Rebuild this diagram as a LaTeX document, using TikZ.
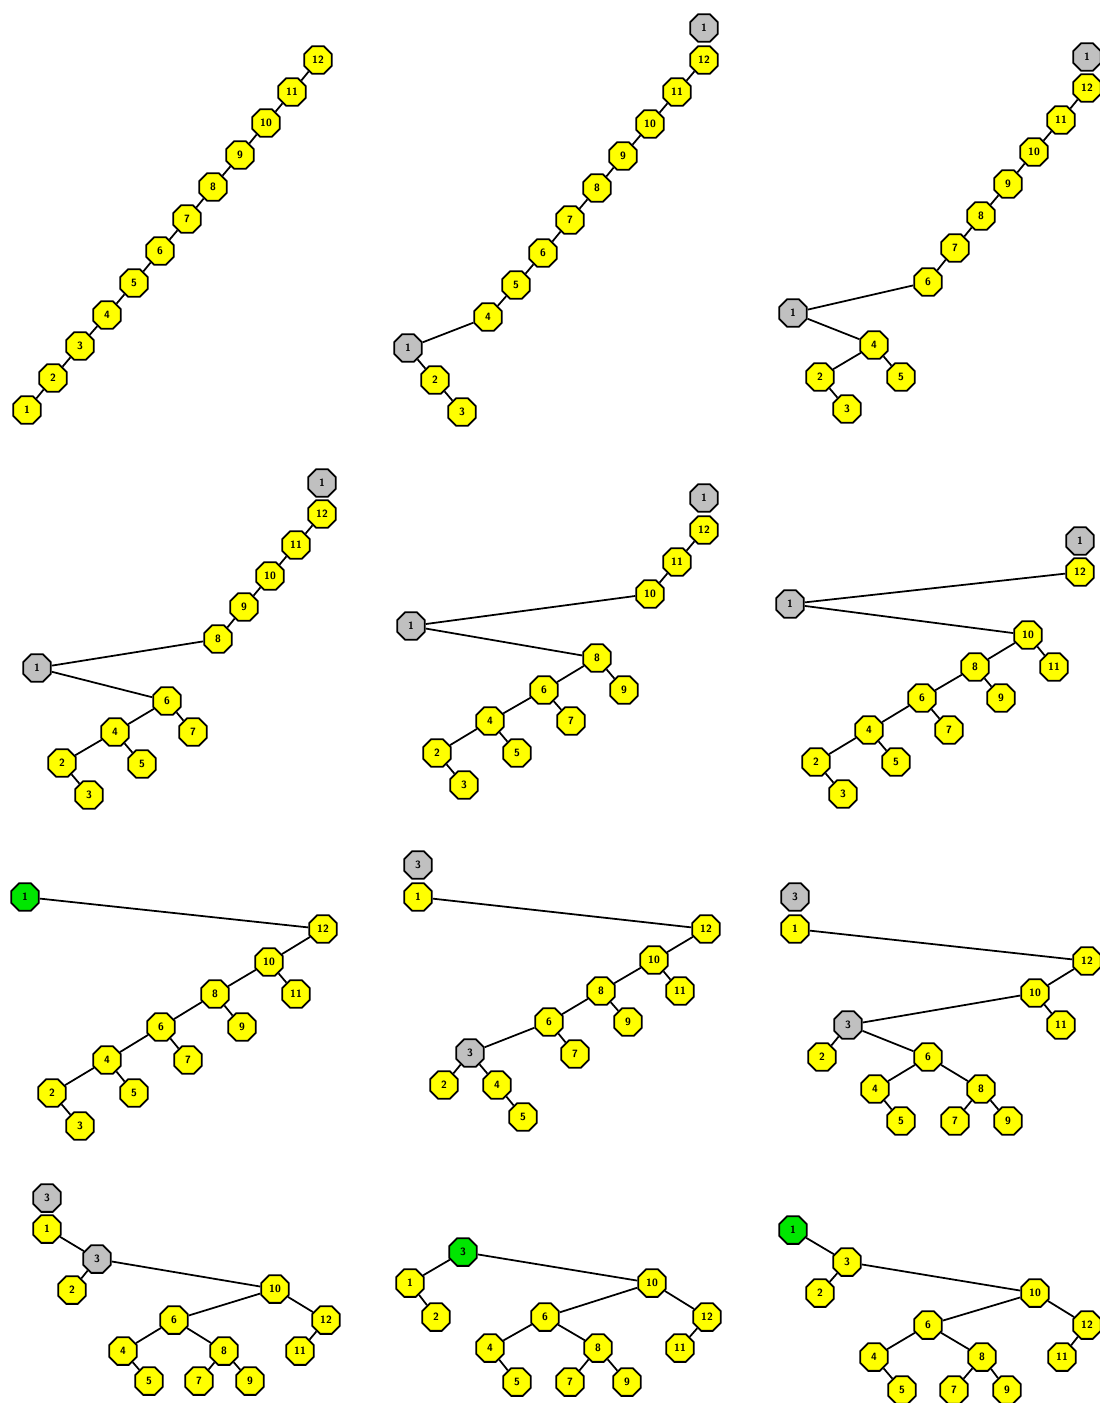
\documentclass[tikz,border=0pt]{standalone}
\usepackage{tikz}
\usetikzlibrary{shapes.geometric}
\definecolor{ndyellow}{RGB}{255,255,0}
\definecolor{ndgray}{RGB}{192,192,192}
\definecolor{ndgreen}{RGB}{0,230,0}
\begin{document}
\begin{tikzpicture}[x=0.02cm,y=-0.02cm,
  nd/.style={draw,regular polygon,regular polygon sides=8,minimum size=0.6cm,inner sep=0pt,
    line width=1pt,fill=ndyellow,font=\sffamily\bfseries\fontsize{6}{6}\selectfont},
  cur/.style={nd,fill=ndgray}, top/.style={nd,fill=ndgreen},
  every path/.style={line width=1pt}]
\useasboundingbox (0,0) rectangle (1099,1403);
% row 1, panel 1: left path
\foreach \k/\px/\py in {1/27/410,2/53/378,3/80/346,4/107/315,5/134/283,6/160/251,
  7/187/219,8/213/187,9/240/155,10/266/123,11/292/92,12/318/60}
  \node[nd] (a\k) at (\px,\py) {\k};
\foreach \k [evaluate=\k as \j using int(\k+1)] in {1,...,11}
  \draw (a\k)--(a\j);
% row 1, panel 2
\node[cur] (bt) at (704,28) {1};
\node[nd] (b12) at (704,60) {12};
\node[nd] (b11) at (677,92) {11};
\node[nd] (b10) at (650,124) {10};
\node[nd] (b9) at (623,156) {9};
\node[nd] (b8) at (597,188) {8};
\node[nd] (b7) at (570,220) {7};
\node[nd] (b6) at (543,253) {6};
\node[nd] (b5) at (516,285) {5};
\node[nd] (b4) at (488,317) {4};
\node[cur] (b1) at (408,348) {1};
\node[nd] (b2) at (435,380) {2};
\node[nd] (b3) at (462,412) {3};
\draw (b12)--(b11) (b11)--(b10) (b10)--(b9) (b9)--(b8) (b8)--(b7) (b7)--(b6) (b6)--(b5) (b5)--(b4);
\draw (b4)--(b1) (b1)--(b2) (b2)--(b3);
% row 1, panel 3
\node[cur] (ct) at (1087,57) {1};
\node[nd] (c12) at (1087,88) {12};
\node[nd] (c11) at (1061,120) {11};
\node[nd] (c10) at (1034,152) {10};
\node[nd] (c9) at (1008,184) {9};
\node[nd] (c8) at (981,216) {8};
\node[nd] (c7) at (955,248) {7};
\node[nd] (c6) at (928,282) {6};
\node[cur] (c1) at (793,313) {1};
\node[nd] (c4) at (874,345) {4};
\node[nd] (c5) at (901,377) {5};
\node[nd] (c2) at (820,377) {2};
\node[nd] (c3) at (847,409) {3};
\draw (c12)--(c11) (c11)--(c10) (c10)--(c9) (c9)--(c8) (c8)--(c7) (c7)--(c6);
\draw (c6)--(c1) (c1)--(c4) (c4)--(c2) (c4)--(c5) (c2)--(c3);
% row 2, panel 1
\node[cur] (dt) at (322,483) {1};
\node[nd] (d12) at (322,514) {12};
\node[nd] (d11) at (296,545) {11};
\node[nd] (d10) at (270,576) {10};
\node[nd] (d9) at (244,607) {9};
\node[nd] (d8) at (218,639) {8};
\node[cur] (d1) at (37,668) {1};
\node[nd] (d6) at (167,701) {6};
\node[nd] (d7) at (193,732) {7};
\node[nd] (d4) at (115,732) {4};
\node[nd] (d5) at (142,764) {5};
\node[nd] (d2) at (62,763) {2};
\node[nd] (d3) at (89,795) {3};
\draw (d12)--(d11) (d11)--(d10) (d10)--(d9) (d9)--(d8);
\draw (d8)--(d1) (d1)--(d6) (d6)--(d4) (d6)--(d7) (d4)--(d2) (d4)--(d5) (d2)--(d3);
% row 2, panel 2
\node[cur] (et) at (704,498) {1};
\node[nd] (e12) at (704,530) {12};
\node[nd] (e11) at (677,562) {11};
\node[nd] (e10) at (650,594) {10};
\node[cur] (e1) at (411,626) {1};
\node[nd] (e8) at (597,658) {8};
\node[nd] (e9) at (624,690) {9};
\node[nd] (e6) at (544,690) {6};
\node[nd] (e7) at (571,721) {7};
\node[nd] (e4) at (490,721) {4};
\node[nd] (e5) at (517,753) {5};
\node[nd] (e2) at (437,753) {2};
\node[nd] (e3) at (464,785) {3};
\draw (e12)--(e11) (e11)--(e10);
\draw (e10)--(e1) (e1)--(e8) (e8)--(e6) (e8)--(e9) (e6)--(e4) (e6)--(e7) (e4)--(e2) (e4)--(e5) (e2)--(e3);
% row 2, panel 3
\node[cur] (ft) at (1080,541) {1};
\node[nd] (f12) at (1080,572) {12};
\node[cur] (f1) at (790,604) {1};
\node[nd] (f10) at (1028,635) {10};
\node[nd] (f11) at (1054,667) {11};
\node[nd] (f8) at (975,667) {8};
\node[nd] (f9) at (1001,698) {9};
\node[nd] (f6) at (922,698) {6};
\node[nd] (f7) at (949,730) {7};
\node[nd] (f4) at (869,730) {4};
\node[nd] (f5) at (896,762) {5};
\node[nd] (f2) at (816,762) {2};
\node[nd] (f3) at (843,794) {3};
\draw (f12)--(f1) (f1)--(f10) (f10)--(f8) (f10)--(f11) (f8)--(f6) (f8)--(f9);
\draw (f6)--(f4) (f6)--(f7) (f4)--(f2) (f4)--(f5) (f2)--(f3);
% row 3, panel 1
\node[top] (g1) at (25,897) {1};
\node[nd] (g12) at (323,929) {12};
\node[nd] (g10) at (269,962) {10};
\node[nd] (g11) at (296,994) {11};
\node[nd] (g8) at (215,994) {8};
\node[nd] (g9) at (242,1027) {9};
\node[nd] (g6) at (161,1027) {6};
\node[nd] (g7) at (188,1060) {7};
\node[nd] (g4) at (107,1060) {4};
\node[nd] (g5) at (134,1093) {5};
\node[nd] (g2) at (52,1093) {2};
\node[nd] (g3) at (80,1126) {3};
\draw (g1)--(g12) (g12)--(g10) (g10)--(g11) (g10)--(g8) (g8)--(g9) (g8)--(g6);
\draw (g6)--(g7) (g6)--(g4) (g4)--(g5) (g4)--(g2) (g2)--(g3);
% row 3, panel 2
\node[cur] (ht) at (418,865) {3};
\node[nd] (h1) at (418,897) {1};
\node[nd] (h12) at (706,929) {12};
\node[nd] (h10) at (654,960) {10};
\node[nd] (h11) at (680,991) {11};
\node[nd] (h8) at (601,991) {8};
\node[nd] (h9) at (628,1022) {9};
\node[nd] (h6) at (549,1022) {6};
\node[nd] (h7) at (575,1054) {7};
\node[cur] (h3) at (470,1053) {3};
\node[nd] (h2) at (444,1085) {2};
\node[nd] (h4) at (497,1085) {4};
\node[nd] (h5) at (523,1117) {5};
\draw (h1)--(h12) (h12)--(h10) (h10)--(h11) (h10)--(h8) (h8)--(h9) (h8)--(h6);
\draw (h6)--(h7) (h6)--(h3) (h3)--(h2) (h3)--(h4) (h4)--(h5);
% row 3, panel 3
\node[cur] (it) at (795,897) {3};
\node[nd] (i1) at (795,929) {1};
\node[nd] (i12) at (1087,961) {12};
\node[nd] (i10) at (1035,993) {10};
\node[nd] (i11) at (1061,1025) {11};
\node[cur] (i3) at (848,1025) {3};
\node[nd] (i2) at (822,1057) {2};
\node[nd] (i6) at (928,1057) {6};
\node[nd] (i4) at (875,1089) {4};
\node[nd] (i5) at (901,1121) {5};
\node[nd] (i8) at (981,1089) {8};
\node[nd] (i7) at (955,1121) {7};
\node[nd] (i9) at (1008,1121) {9};
\draw (i1)--(i12) (i12)--(i10) (i10)--(i11) (i10)--(i3) (i3)--(i2) (i3)--(i6);
\draw (i6)--(i4) (i6)--(i8) (i4)--(i5) (i8)--(i7) (i8)--(i9);
% row 4, panel 1
\node[cur] (jt) at (47,1198) {3};
\node[nd] (j1) at (47,1229) {1};
\node[cur] (j3) at (97,1259) {3};
\node[nd] (j2) at (72,1290) {2};
\node[nd] (j10) at (275,1289) {10};
\node[nd] (j12) at (326,1320) {12};
\node[nd] (j11) at (300,1351) {11};
\node[nd] (j6) at (174,1320) {6};
\node[nd] (j4) at (123,1351) {4};
\node[nd] (j5) at (149,1381) {5};
\node[nd] (j8) at (224,1351) {8};
\node[nd] (j7) at (199,1381) {7};
\node[nd] (j9) at (250,1381) {9};
\draw (j1)--(j3) (j3)--(j2) (j3)--(j10) (j10)--(j6) (j10)--(j12) (j12)--(j11);
\draw (j6)--(j4) (j6)--(j8) (j4)--(j5) (j8)--(j7) (j8)--(j9);
% row 4, panel 2
\node[top] (k3) at (463,1252) {3};
\node[nd] (k1) at (410,1283) {1};
\node[nd] (k2) at (436,1317) {2};
\node[nd] (k10) at (652,1283) {10};
\node[nd] (k12) at (707,1317) {12};
\node[nd] (k11) at (680,1348) {11};
\node[nd] (k6) at (545,1317) {6};
\node[nd] (k4) at (490,1348) {4};
\node[nd] (k5) at (517,1382) {5};
\node[nd] (k8) at (598,1348) {8};
\node[nd] (k7) at (570,1382) {7};
\node[nd] (k9) at (627,1382) {9};
\draw (k3)--(k1) (k1)--(k2) (k3)--(k10) (k10)--(k6) (k10)--(k12) (k12)--(k11);
\draw (k6)--(k4) (k6)--(k8) (k4)--(k5) (k8)--(k7) (k8)--(k9);
% row 4, panel 3
\node[top] (l1) at (793,1230) {1};
\node[nd] (l3) at (847,1262) {3};
\node[nd] (l2) at (820,1293) {2};
\node[nd] (l10) at (1035,1293) {10};
\node[nd] (l12) at (1087,1325) {12};
\node[nd] (l11) at (1062,1357) {11};
\node[nd] (l6) at (928,1325) {6};
\node[nd] (l4) at (874,1357) {4};
\node[nd] (l5) at (902,1390) {5};
\node[nd] (l8) at (982,1357) {8};
\node[nd] (l7) at (954,1390) {7};
\node[nd] (l9) at (1007,1390) {9};
\draw (l1)--(l3) (l3)--(l2) (l3)--(l10) (l10)--(l6) (l10)--(l12) (l12)--(l11);
\draw (l6)--(l4) (l6)--(l8) (l4)--(l5) (l8)--(l7) (l8)--(l9);
\end{tikzpicture}
\end{document}
